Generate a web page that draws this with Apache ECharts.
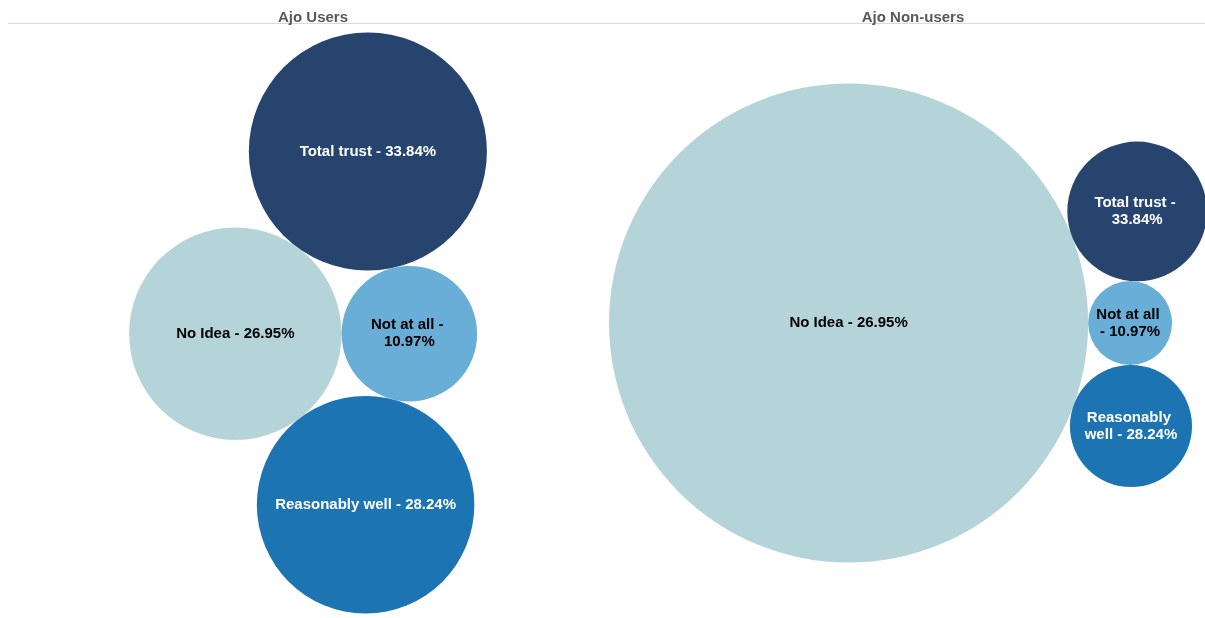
<!DOCTYPE html>
<html>
<head>
<meta charset="utf-8">
<script src="https://cdn.jsdelivr.net/npm/echarts@6/dist/echarts.min.js"></script>
<style>html,body{margin:0;padding:0;background:#fff}#c{width:1205px;height:618px}</style>
</head>
<body>
<div id="c"></div>
<script>
// ---- data ----
const panels = ['Ajo Users', 'Ajo Non-users'];
const categories = ['No Idea', 'Total trust', 'Not at all', 'Reasonably well'];
const labelPercents = ['26.95%', '33.84%', '10.97%', '28.24%'];   // as printed on the bubbles
const userSizes = [26.95, 33.84, 10.97, 28.24];                  // bubble size measure, users
const nonUserSizes = [84.7, 7.2, 2.6, 5.5];                       // bubble size measure, non-users (estimated from areas)
const colors = ['#b5d4da', '#26446d', '#68aed6', '#1c74b2'];
const labelColors = ['#000', '#fff', '#000', '#fff'];

// ---- packed layout: A at origin, C right of A, B tangent above, D tangent below ----
function tangent(a, b, r, sign) {
  const dx = b.x - a.x, dy = b.y - a.y, d = Math.hypot(dx, dy);
  const ra = a.r + r, rb = b.r + r;
  const cosA = (ra * ra + d * d - rb * rb) / (2 * ra * d);
  const ang = Math.atan2(dy, dx) + sign * Math.acos(Math.max(-1, Math.min(1, cosA)));
  return { x: a.x + ra * Math.cos(ang), y: a.y + ra * Math.sin(ang), r };
}
function pack(sizes, cx, cy, W, H) {
  const r = sizes.map(v => Math.sqrt(v));
  const A = { x: 0, y: 0, r: r[0] };
  const C = { x: r[0] + r[2], y: 0, r: r[2] };
  const B = tangent(A, C, r[1], -1);
  const D = tangent(A, C, r[3], 1);
  const cs = [A, B, C, D];
  const x0 = Math.min(...cs.map(c => c.x - c.r)), x1 = Math.max(...cs.map(c => c.x + c.r));
  const y0 = Math.min(...cs.map(c => c.y - c.r)), y1 = Math.max(...cs.map(c => c.y + c.r));
  const k = Math.min(W / (x1 - x0), H / (y1 - y0));
  const mx = (x0 + x1) / 2, my = (y0 + y1) / 2;
  return cs.map(c => ({ x: cx + (c.x - mx) * k, y: cy + (c.y - my) * k, r: c.r * k }));
}
const panelCenters = [[308, 323], [908, 323]];
const layouts = [pack(userSizes, 308, 323, 598, 581), pack(nonUserSizes, 908, 323, 598, 581)];

function seriesFor(p) {
  return {
    type: 'scatter',
    symbol: 'circle',
    animation: false,
    silent: true,
    data: layouts[p].map((c, i) => ({
      value: [c.x, c.y],
      symbolSize: c.r * 2,
      itemStyle: { color: colors[i], opacity: 1 },
      label: {
        show: true, position: 'inside',
        formatter: categories[i] + ' - ' + labelPercents[i],
        width: c.r > 90 ? c.r * 1.9 : c.r * 1.7,
        overflow: 'break',
        color: labelColors[i],
        fontFamily: 'Liberation Sans, Arial, sans-serif',
        fontWeight: 'bold', fontSize: 15, lineHeight: 17, align: 'center'
      }
    }))
  };
}

const chart = echarts.init(document.getElementById('c'), null, { renderer: 'canvas' });
chart.setOption({
  backgroundColor: '#fff',
  animation: false,
  title: panels.map((t, p) => ({
    text: t, left: panelCenters[p][0], top: 5, textAlign: 'center',
    textStyle: { fontFamily: 'Liberation Sans, Arial, sans-serif', fontSize: 15, fontWeight: 'bold', color: '#585858' }
  })),
  grid: { left: 0, right: 0, top: 0, bottom: 0 },
  xAxis: { type: 'value', min: 0, max: 1205, show: false },
  yAxis: { type: 'value', min: 0, max: 618, inverse: true, show: false },
  graphic: [{
    type: 'line', shape: { x1: 8, y1: 23.5, x2: 1205, y2: 23.5 },
    style: { stroke: '#d9d9d9', lineWidth: 1 }, silent: true
  }],
  series: [seriesFor(0), seriesFor(1)]
});
</script>
</body>
</html>
